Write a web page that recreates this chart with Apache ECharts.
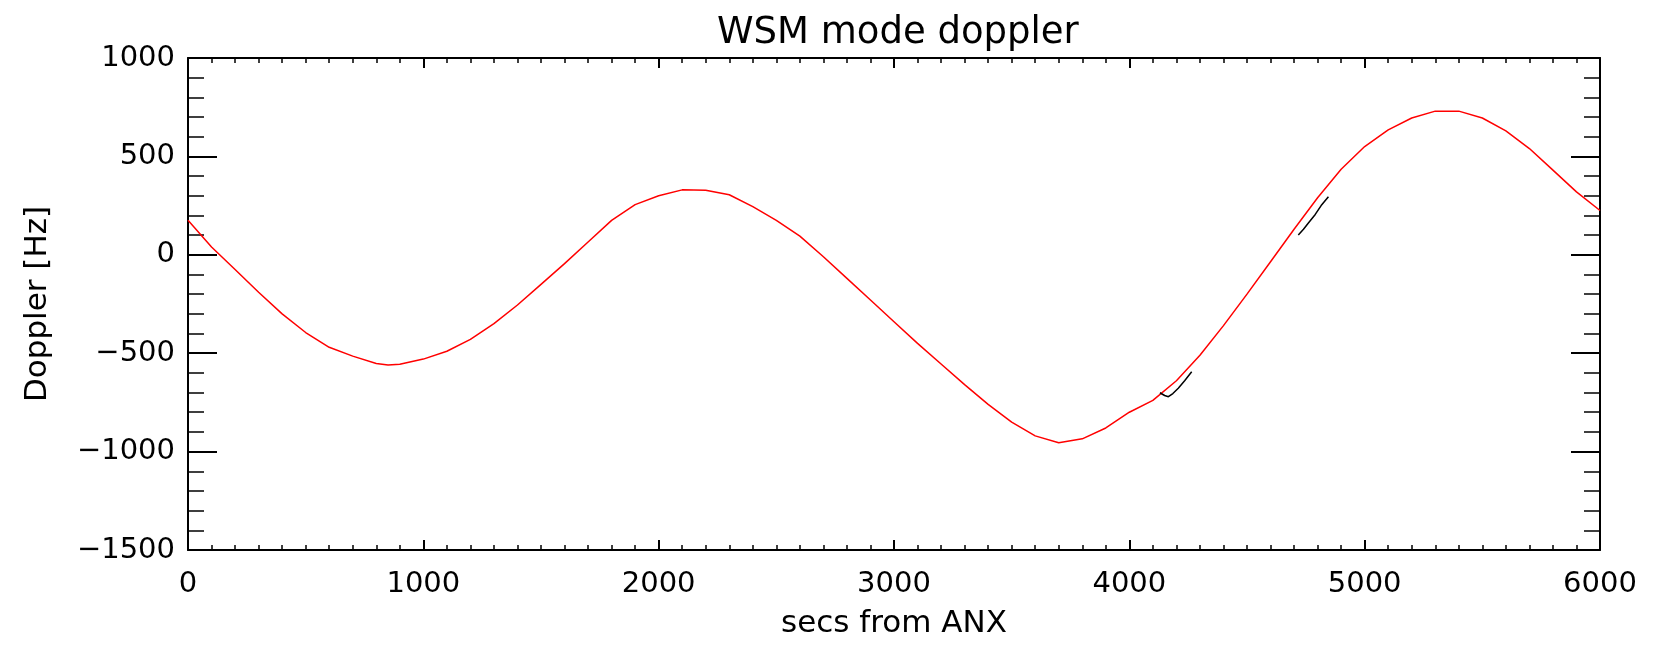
<!DOCTYPE html>
<html>
<head>
<meta charset="utf-8">
<script src="https://cdn.jsdelivr.net/npm/echarts@6/dist/echarts.min.js"></script>
<style>
html,body{margin:0;padding:0;background:#fff;}
#chart{width:1653px;height:652px;}
</style>
</head>
<body>
<div id="chart"></div>
<script>
// Model doppler (red) sampled every 100 s
const secs = [0,100,200,300,400,500,600,700,800,850,900,1000,1100,1200,1300,1400,1500,1600,1700,1800,1900,2000,2100,2200,2300,2400,2500,2600,2700,2800,2900,3000,3100,3200,3300,3400,3500,3600,3700,3800,3900,4000,4100,4200,4300,4400,4500,4600,4700,4800,4900,5000,5100,5200,5300,5400,5500,5600,5700,5800,5900,6000];
const doppler = [175,40,-75,-190,-300,-395,-470,-515,-552,-560,-556,-530,-490,-430,-350,-255,-150,-45,65,175,255,300,330,328,305,245,175,95,-10,-120,-230,-340,-450,-555,-660,-760,-850,-920,-955,-935,-880,-800,-740,-640,-510,-360,-200,-35,130,290,435,550,635,695,730,730,695,630,540,430,320,225];
// Measured doppler fragments (black)
const measSecs = [4130,4150,4166,4185,4208,4235,4265,null,4718,4740,4760,4790,4815,4846];
const measDop  = [-701,-715,-721,-705,-678,-640,-594,null,101,130,160,205,250,295];

const xTicks = {min:0, max:6000, interval:1000};
const yTicks = {min:-1500, max:1000, interval:500};

const FONT = 'DejaVu Sans';
const fmt = v => v < 0 ? '\u2212' + Math.abs(v) : String(v);
const chart = echarts.init(document.getElementById('chart'), null, {renderer:'canvas'});

function axisCommon(showLabel, tickLen, minorLen, minorSplit, margin){
  return {
    axisLine:{show:true, onZero:false, lineStyle:{color:'#000', width:2}},
    axisTick:{show:true, inside:true, length:tickLen, lineStyle:{color:'#000', width:2}},
    minorTick:{show:true, splitNumber:minorSplit, length:minorLen, lineStyle:{color:'#000', width:1.5}},
    splitLine:{show:false},
    minorSplitLine:{show:false},
    axisLabel:{show:showLabel, color:'#000', fontFamily:FONT, fontSize:29, margin:margin||8, formatter:fmt}
  };
}

const redData = secs.map((s,i)=>[s, doppler[i]]);
const blackData = measSecs.map((s,i)=> s===null ? [null,null] : [s, measDop[i]]);

const option = {
  animation:false,
  backgroundColor:'#fff',
  title:{
    text:'WSM mode doppler', left:712, top:10,
    textStyle:{fontFamily:FONT, fontSize:37, fontWeight:'normal', color:'#000'}
  },
  grid:{left:188, right:53, top:58, bottom:102, containLabel:false},
  xAxis:[
    Object.assign({type:'value', position:'bottom', min:xTicks.min, max:xTicks.max, interval:xTicks.interval,
      name:'secs from ANX', nameLocation:'middle', nameGap:58,
      nameTextStyle:{fontFamily:FONT, fontSize:31, color:'#000'}}, axisCommon(true,10,5,10,20)),
    Object.assign({type:'value', position:'top', min:xTicks.min, max:xTicks.max, interval:xTicks.interval}, axisCommon(false,10,5,10))
  ],
  yAxis:[
    Object.assign({type:'value', position:'left', min:yTicks.min, max:yTicks.max, interval:yTicks.interval,
      name:'Doppler [Hz]', nameLocation:'middle', nameGap:135, nameRotate:90,
      nameTextStyle:{fontFamily:FONT, fontSize:31, color:'#000'}}, axisCommon(true,29,16,5,13)),
    Object.assign({type:'value', position:'right', min:yTicks.min, max:yTicks.max, interval:yTicks.interval}, axisCommon(false,29,16,5))
  ],
  series:[
    {type:'line', xAxisIndex:0, yAxisIndex:0, data:redData, showSymbol:false, symbol:'none',
      lineStyle:{color:'#ff0000', width:1.5}, z:3},
    {type:'line', xAxisIndex:0, yAxisIndex:0, data:blackData, showSymbol:false, symbol:'none', connectNulls:false,
      lineStyle:{color:'#000', width:1.5}, z:4}
  ]
};
chart.setOption(option);
</script>
</body>
</html>
